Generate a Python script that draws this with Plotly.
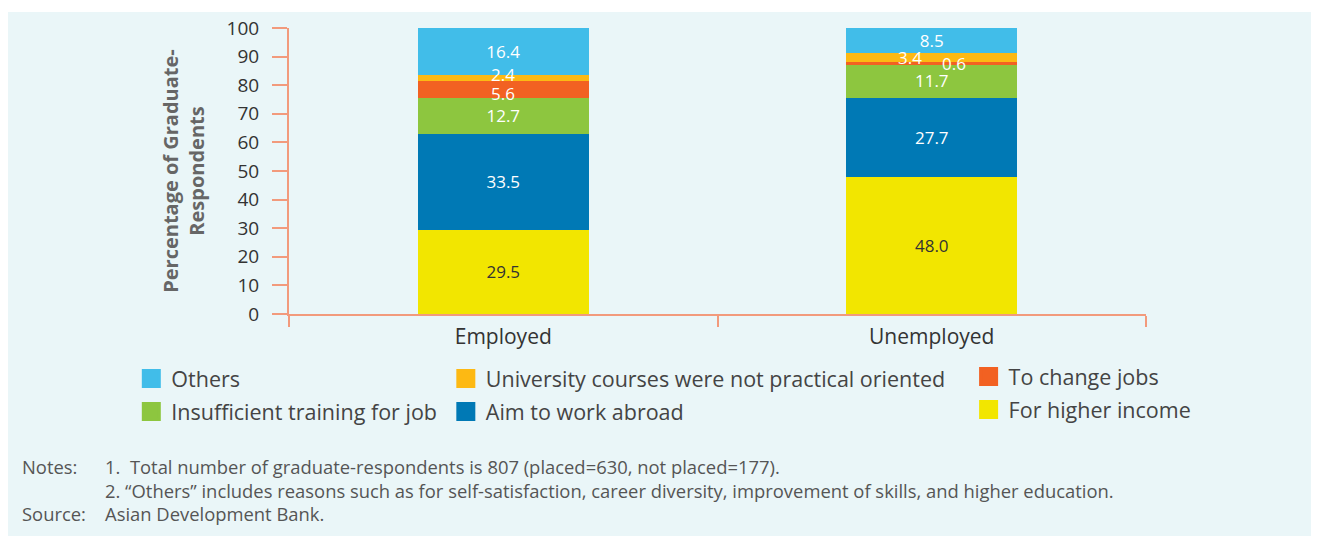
import plotly.graph_objects as go

# data
categories = ['Employed', 'Unemployed']
series_names = ['For higher income', 'Aim to work abroad', 'Insufficient training for job',
                'To change jobs', 'University courses were not practical oriented', 'Others']
higher_income = [29.5, 48.0]
work_abroad = [33.5, 27.7]
insufficient_training = [12.7, 11.7]
change_jobs = [5.6, 0.6]
not_practical = [2.4, 3.4]
others = [16.4, 8.5]
y_ticks = [0, 10, 20, 30, 40, 50, 60, 70, 80, 90, 100]

series_values = [higher_income, work_abroad, insufficient_training, change_jobs, not_practical, others]
colors = ['#F2E600', '#0079B5', '#8DC63F', '#F26122', '#FDB913', '#41BDE9']
text_colors = ['#333333', 'white', 'white', 'white', 'white', 'white']

# which legend column each series sits in, and its order in that column
legend_slot = {
    'Others': ('legend', 1),
    'Insufficient training for job': ('legend', 2),
    'University courses were not practical oriented': ('legend2', 1),
    'Aim to work abroad': ('legend2', 2),
    'To change jobs': ('legend3', 1),
    'For higher income': ('legend3', 2),
}

axis_color = '#F29A7C'
font_family = 'Open Sans, Lato, sans-serif'
small = ('To change jobs', 'University courses were not practical oriented')

fig = go.Figure()

for name, vals, col, tcol in zip(series_names, series_values, colors, text_colors):
    # thin segments get nudged annotations instead of bar text
    labels = ['' if name in small else f'{v:.1f}' for v in vals]
    fig.add_trace(go.Bar(
        x=categories, y=vals, name=name,
        marker=dict(color=col, line=dict(width=0)),
        text=labels, textposition='inside', insidetextanchor='middle',
        constraintext='none', textangle=0,
        textfont=dict(color=tcol, size=17, family=font_family),
        showlegend=False,
    ))

# legend entries (bigger square swatches than bar legends allow)
for name, col in zip(series_names, colors):
    leg, rank = legend_slot[name]
    fig.add_trace(go.Scatter(
        x=[None], y=[None], mode='markers', name=name,
        marker=dict(symbol='square', size=16, color=col, line=dict(color=col, width=3)),
        legend=leg, legendrank=rank, legendgroup=name,
    ))

# labels for the thin segments, nudged apart like in the original
lbl_font = dict(color='white', size=17, family=font_family)
for i, (xs_o, xs_r, ys_o, ys_r) in enumerate([(0, 0, 4, -4), (-22, 22, 0, 0)]):
    base_red = higher_income[i] + work_abroad[i] + insufficient_training[i]
    base_orange = base_red + change_jobs[i]
    fig.add_annotation(x=categories[i], y=base_orange + not_practical[i] / 2, text=f'{not_practical[i]:.1f}',
                       xshift=xs_o, yshift=ys_o, showarrow=False, font=lbl_font)
    fig.add_annotation(x=categories[i], y=base_red + change_jobs[i] / 2, text=f'{change_jobs[i]:.1f}',
                       xshift=xs_r, yshift=ys_r, showarrow=False, font=lbl_font)

# notes and source
note_font = dict(size=18.4, color='#555555', family=font_family)
notes = [
    (-0.3139, -0.5315, 'Notes:'),
    (-0.217, -0.5315, '1.  Total number of graduate-respondents is 807 (placed=630, not placed=177).'),
    (-0.217, -0.6154, '2. \u201cOthers\u201d includes reasons such as for self-satisfaction, career diversity, improvement of skills, and higher education.'),
    (-0.3139, -0.6993, 'Source:'),
    (-0.217, -0.6993, 'Asian Development Bank.'),
]
for nx, ny, txt in notes:
    fig.add_annotation(x=nx, y=ny, xref='paper', yref='paper', text=txt, showarrow=False,
                       xanchor='left', yanchor='middle', font=note_font)

# light panel behind everything
fig.add_shape(type='rect', xref='paper', yref='paper', x0=-0.33, x1=1.21, y0=-0.78, y1=1.0559,
              fillcolor='#EAF6F8', line=dict(width=0), layer='below')

legend_common = dict(orientation='v', xanchor='left', yanchor='top', bgcolor='rgba(0,0,0,0)',
                     font=dict(size=21.5, color='#444444', family=font_family),
                     tracegroupgap=2, itemclick=False)

# page body adds an 8px offset, so the figure is 8px smaller on each side
fig.update_layout(
    width=1311, height=528,
    margin=dict(l=281, r=173, t=20, b=222),
    barmode='stack', bargap=0.6,
    paper_bgcolor='white', plot_bgcolor='rgba(0,0,0,0)',
    font=dict(family=font_family, color='#333333'),
    legend=dict(x=-0.184, y=-0.154, **legend_common),
    legend2=dict(x=0.183, y=-0.154, **legend_common),
    legend3=dict(x=0.793, y=-0.147, **legend_common),
    xaxis=dict(
        range=[-0.5, 1.5], showline=True, linecolor=axis_color, linewidth=2,
        ticks='outside', tickson='boundaries', ticklen=11, tickcolor=axis_color, tickwidth=2,
        tickfont=dict(size=21, color='#333333'), ticklabelstandoff=3, showgrid=False,
        automargin=False,
    ),
    yaxis=dict(
        range=[0, 100], tickvals=y_ticks, showline=True, linecolor=axis_color, linewidth=2,
        ticks='outside', ticklen=15, tickcolor=axis_color, tickwidth=2,
        tickfont=dict(size=19, color='#333333'), ticklabelstandoff=9,
        showgrid=False, zeroline=False, automargin=False,
        title=dict(text='Percentage of Graduate-<br>Respondents', standoff=17,
                   font=dict(size=20, color='#666666', family=font_family, weight='bold')),
    ),
)

fig.write_html('out.html')
